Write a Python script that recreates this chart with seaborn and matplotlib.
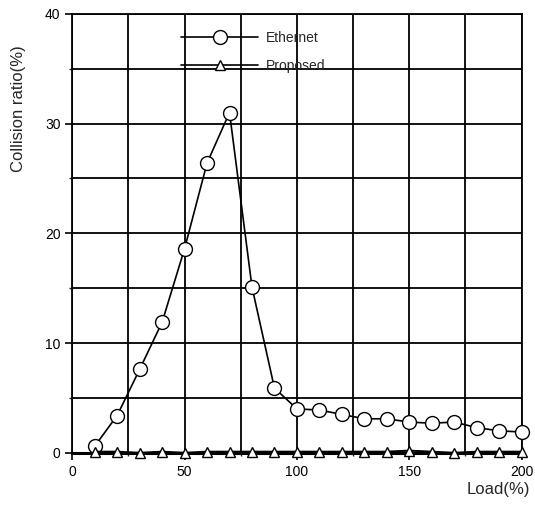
import numpy as np
import pandas as pd
import matplotlib
matplotlib.use("Agg")
import matplotlib.pyplot as plt
import seaborn as sns

# Load (%) values
load = [10, 20, 30, 40, 50, 60, 70, 80, 90, 100,
        110, 120, 130, 140, 150, 160, 170, 180, 190, 200]
# Collision ratio (%)
ethernet = [0.6, 3.4, 7.6, 11.9, 18.6, 26.4, 31.0, 15.1, 5.9, 4.0,
            3.9, 3.5, 3.1, 3.1, 2.8, 2.7, 2.8, 2.3, 2.0, 1.9]
proposed = [0.1, 0.1, 0.0, 0.1, 0.0, 0.1, 0.1, 0.1, 0.1, 0.1,
            0.1, 0.1, 0.1, 0.1, 0.2, 0.1, 0.0, 0.1, 0.1, 0.1]

df_eth = pd.DataFrame({"Load": load, "Collision": ethernet})
df_pro = pd.DataFrame({"Load": load, "Collision": proposed})

sns.set_style("white")
plt.rcParams["font.family"] = ["Liberation Sans", "DejaVu Sans"]

fig = plt.figure(figsize=(5.35, 5.29), dpi=100)
ax = fig.add_axes([0.135, 0.144, 0.84, 0.83])

sns.lineplot(data=df_eth, x="Load", y="Collision", ax=ax, color="black",
             marker="o", markersize=10, markerfacecolor="white",
             markeredgecolor="black", markeredgewidth=1.0, linewidth=1.2,
             label="Ethernet", zorder=4, clip_on=False)
sns.lineplot(data=df_pro, x="Load", y="Collision", ax=ax, color="black",
             marker="^", markersize=7, markerfacecolor="white",
             markeredgecolor="black", markeredgewidth=1.0, linewidth=1.5,
             label="Proposed", zorder=4, clip_on=False)

ax.set_xlim(0, 200)
ax.set_ylim(0, 40)
ax.set_xticks([0, 50, 100, 150, 200])
ax.set_yticks([0, 10, 20, 30, 40])
ax.set_xticks(np.arange(0, 201, 25), minor=True)
ax.set_yticks(np.arange(0, 41, 5), minor=True)
ax.grid(which="both", color="black", linewidth=1.3)
ax.tick_params(which="major", direction="out", length=5, width=1.2,
               labelsize=10, colors="black", bottom=True, left=True)
ax.tick_params(which="minor", direction="out", length=2, width=1.0,
               bottom=True, left=True)
for s in ax.spines.values():
    s.set_color("black")
    s.set_linewidth(1.3)
ax.spines["bottom"].set_linewidth(2.2)

ax.set_xlabel("")
ax.set_ylabel("")
fig.text(0.99, 0.074, "Load(%)", ha="right", va="center", fontsize=12)
fig.text(0.035, 0.795, "Collision ratio(%)", ha="center", va="center",
         rotation=90, fontsize=12)

leg = ax.legend(loc="upper left", bbox_to_anchor=(0.215, 0.99), frameon=False,
                handlelength=5.5, labelspacing=1.0, fontsize=10,
                handletextpad=0.6)
for h in leg.get_lines():
    h.set_linewidth(1.2)

fig.savefig("out.png", dpi=100)
